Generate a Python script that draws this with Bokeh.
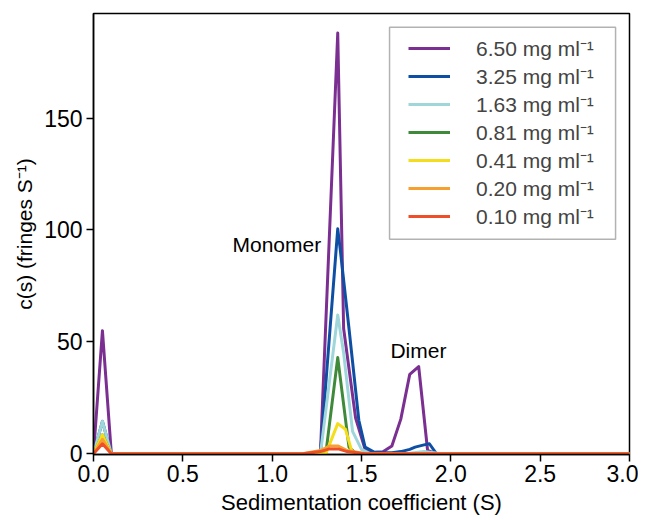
from bokeh.plotting import figure
from bokeh.models import Range1d, Legend, LegendItem, BoxAnnotation, Label, FixedTicker
from bokeh.embed import file_html
from bokeh.resources import INLINE

# ---- data ----
labels = ["6.50 mg ml\u207b\u00b9", "3.25 mg ml\u207b\u00b9", "1.63 mg ml\u207b\u00b9",
          "0.81 mg ml\u207b\u00b9", "0.41 mg ml\u207b\u00b9", "0.20 mg ml\u207b\u00b9",
          "0.10 mg ml\u207b\u00b9"]
colors = ["#7a2f91", "#0f4fa3", "#9fd6da", "#3f8a3a", "#f4de1c", "#f7a02f", "#ef4f28"]

s_650 = [0.0, 0.05, 0.10, 1.27, 1.367, 1.40, 1.467, 1.52, 1.57, 1.62, 1.67, 1.72, 1.77, 1.82, 1.87, 1.92, 3.0]
c_650 = [0, 55, 0, 0, 188, 56, 16, 2, 0.6, 0.9, 3.5, 15.5, 35.5, 39, 1.5, 0, 0]

s_325 = [0.0, 0.05, 0.10, 1.27, 1.367, 1.38, 1.43, 1.485, 1.52, 1.57, 1.62, 1.67, 1.72, 1.77, 1.80, 1.85, 1.88, 1.92, 3.0]
c_325 = [0, 14.5, 0, 0, 100.5, 92, 56, 15, 3, 0.8, 0.5, 0.5, 1, 2, 3, 4, 4.5, 0, 0]

s_163 = [0.0, 0.05, 0.10, 1.27, 1.367, 1.40, 1.45, 1.50, 1.55, 1.75, 1.85, 1.95, 3.0]
c_163 = [0, 14.5, 0, 0, 62, 45, 10, 2, 0, 0, 1, 0, 0]

s_081 = [0.0, 0.05, 0.10, 1.30, 1.367, 1.43, 1.47, 3.0]
c_081 = [0, 8.5, 0, 0, 43, 3, 0, 0]

s_041 = [0.0, 0.05, 0.10, 1.30, 1.367, 1.41, 1.45, 3.0]
c_041 = [0, 8.5, 0, 0, 13.5, 11, 0, 0]

s_020 = [0.0, 0.05, 0.10, 1.17, 1.27, 1.32, 1.37, 1.42, 1.52, 3.0]
c_020 = [0, 6.5, 0, 0, 1.5, 3.5, 3.5, 1.5, 0, 0]

s_010 = [0.0, 0.05, 0.10, 1.17, 1.27, 1.32, 1.37, 1.42, 1.52, 3.0]
c_010 = [0, 4.5, 0, 0, 1, 2.2, 2.2, 1, 0, 0]

x_ticks = [0.0, 0.5, 1.0, 1.5, 2.0, 2.5, 3.0]
y_ticks = [0, 50, 100, 150]

series = [(s_650, c_650), (s_325, c_325), (s_163, c_163), (s_081, c_081),
          (s_041, c_041), (s_020, c_020), (s_010, c_010)]

FONT = "Liberation Sans"

p = figure(frame_width=536, frame_height=441, output_backend="svg", toolbar_location=None,
           x_range=Range1d(0, 3.0), y_range=Range1d(-0.3, 196.7),
           min_border_left=93, min_border_right=9, min_border_top=13, min_border_bottom=58)
p.grid.visible = False
p.outline_line_color = "black"
p.outline_line_width = 1.5
p.background_fill_color = "white"
p.border_fill_color = "white"

items = []
for (s, c), col, lab in zip(series, colors, labels):
    r = p.line(s, c, line_color=col, line_width=3, line_join="round")
    items.append(LegendItem(label=lab, renderers=[r]))

for ax in (p.xaxis[0], p.yaxis[0]):
    ax.axis_line_color = "black"
    ax.axis_line_width = 1.5
    ax.major_tick_line_color = "black"
    ax.major_tick_line_width = 1.5
    ax.major_tick_in = 0
    ax.major_tick_out = 7
    ax.minor_tick_line_color = None
    ax.major_label_text_font = FONT
    ax.major_label_text_font_size = "23px"
    ax.major_label_text_color = "black"
    ax.axis_label_text_font = FONT
    ax.axis_label_text_font_style = "normal"
    ax.axis_label_text_color = "black"

p.xaxis.axis_label_text_font_size = "22px"
p.yaxis.axis_label_text_font_size = "21px"
p.xaxis.ticker = FixedTicker(ticks=x_ticks)
p.xaxis.major_label_overrides = {t: f"{t:.1f}" for t in x_ticks}
p.yaxis.ticker = FixedTicker(ticks=y_ticks)
p.xaxis.axis_label = "Sedimentation coefficient (S)"
p.yaxis.axis_label = "c(s) (fringes S\u207b\u00b9)"
p.xaxis.major_label_standoff = 3
p.xaxis.axis_label_standoff = 5
p.yaxis.major_label_standoff = 4
p.yaxis.axis_label_standoff = 5

legend = Legend(items=items, location=(308, 217), padding=7, spacing=0,
                glyph_width=42, glyph_height=28, label_height=28, label_standoff=26,
                label_text_font=FONT, label_text_font_size="21px",
                border_line_alpha=0, background_fill_alpha=0)
p.add_layout(legend)

p.add_layout(BoxAnnotation(left=1.657, right=2.922, bottom=95.8, top=190.6,
                           fill_alpha=0, line_color="black", line_width=1.5))

p.add_layout(Label(x=0.778, y=93.5, text="Monomer", text_baseline="middle",
                   text_font=FONT, text_font_size="21px", text_color="black"))
p.add_layout(Label(x=1.662, y=46, text="Dimer", text_baseline="middle",
                   text_font=FONT, text_font_size="21px", text_color="black"))

open("out.html", "w").write(file_html(p, INLINE))
